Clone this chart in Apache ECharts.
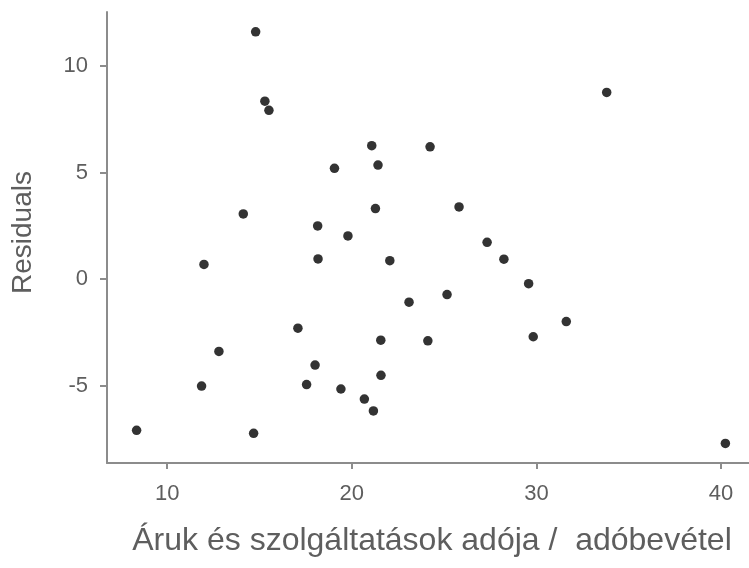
<!DOCTYPE html>
<html>
<head>
<meta charset="utf-8">
<script src="https://cdn.jsdelivr.net/npm/echarts@6/dist/echarts.min.js"></script>
<style>
  html, body { margin: 0; padding: 0; background: #fff; }
  #chart { width: 749px; height: 568px; }
</style>
</head>
<body>
<div id="chart"></div>
<script>
// Tax on goods and services (share of tax revenue) vs. model residuals
const taxShare = [
  14.79, 15.29, 15.51, 21.08, 24.24, 19.06, 21.42, 14.12, 21.28, 18.15,
  19.79, 33.81, 25.81, 11.99, 18.17, 22.06, 23.10, 17.08, 21.57, 24.12,
  12.80, 18.01, 21.58, 11.86, 17.55, 19.41, 20.68, 21.17, 8.34, 14.68,
  27.33, 28.24, 29.58, 25.16, 29.83, 31.62, 40.24
];
const residuals = [
  11.60, 8.35, 7.92, 6.26, 6.21, 5.20, 5.35, 3.06, 3.31, 2.50,
  2.03, 8.76, 3.39, 0.69, 0.95, 0.87, -1.08, -2.30, -2.86, -2.89,
  -3.39, -4.03, -4.51, -5.01, -4.94, -5.15, -5.62, -6.18, -7.09, -7.23,
  1.73, 0.94, -0.21, -0.72, -2.70, -1.99, -7.70
];
const xTicks = [10, 20, 30, 40];
const yTicks = [-5, 0, 5, 10];

const xTitle = 'Áruk és szolgáltatások adója /  adóbevétel';
const yTitle = 'Residuals';

const points = taxShare.map((x, i) => [x, residuals[i]]);

const axisGrey = '#8c8c8c';
const textGrey = '#5e5e5e';
const font = 'Liberation Sans, Arial, sans-serif';

const chart = echarts.init(document.getElementById('chart'), null, { renderer: 'canvas' });
chart.setOption({
  animation: false,
  backgroundColor: '#ffffff',
  grid: { left: 107, top: 12, right: 0, bottom: 105, containLabel: false },
  xAxis: {
    type: 'value',
    min: 6.736,
    max: 41.52,
    name: xTitle,
    nameLocation: 'middle',
    nameGap: 62,
    nameTextStyle: { color: textGrey, fontSize: 32, fontFamily: font, padding: [0, 0, 0, 8] },
    splitLine: { show: false },
    axisLine: { show: true, onZero: false, lineStyle: { color: axisGrey, width: 2 } },
    axisTick: { show: true, length: 6, customValues: xTicks, lineStyle: { color: axisGrey, width: 2 } },
    axisLabel: { customValues: xTicks, margin: 20, color: textGrey, fontSize: 22, fontFamily: font }
  },
  yAxis: {
    type: 'value',
    min: -8.62,
    max: 12.53,
    name: yTitle,
    nameLocation: 'middle',
    nameGap: 70,
    nameTextStyle: { color: textGrey, fontSize: 28, fontFamily: font, padding: [0, 0, 0, 10] },
    splitLine: { show: false },
    axisLine: { show: true, onZero: false, lineStyle: { color: axisGrey, width: 2 } },
    axisTick: { show: true, length: 7, customValues: yTicks, lineStyle: { color: axisGrey, width: 2 } },
    axisLabel: { customValues: yTicks, margin: 19, color: textGrey, fontSize: 22, fontFamily: font }
  },
  series: [{
    type: 'scatter',
    data: points,
    symbol: 'circle',
    symbolSize: 9.5,
    itemStyle: { color: '#333333', opacity: 1 }
  }]
});
</script>
</body>
</html>
